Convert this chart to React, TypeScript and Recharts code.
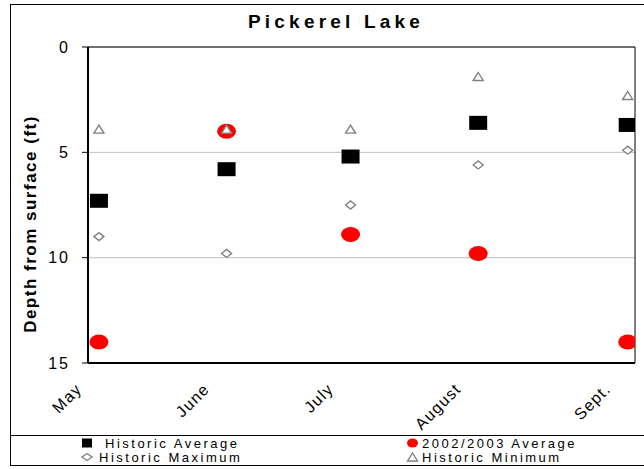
import React from "react";
import { CartesianGrid, ReferenceArea, Scatter, ScatterChart, XAxis, YAxis } from "recharts";

const months = ["May", "June", "July", "August", "Sept."];
// sampling day, counted from 1 May
const sampleDay = [3, 38, 72, 107, 148];
const historicAverage = [7.3, 5.8, 5.2, 3.6, 3.7];
const recentAverage = [14.0, 4.0, 8.9, 9.8, 14.0];
const historicMaximum = [9.0, 9.8, 7.5, 5.6, 4.9];
const historicMinimum = [3.9, 3.9, 3.9, 1.4, 2.3];
const depthTicks = [0, 5, 10, 15];

const FONT = '"Liberation Sans", Arial, sans-serif';

const toPoints = (values: number[]) =>
  values.map((y, i) => ({ x: sampleDay[i], y, month: months[i] }));

function Square({ cx, cy, w = 18, h = 14 }: any) {
  return <rect x={cx - w / 2} y={cy - h / 2} width={w} height={h} fill="#000" />;
}

function RedDot({ cx, cy, w = 19, h = 15 }: any) {
  return <ellipse cx={cx} cy={cy} rx={w / 2} ry={h / 2} fill="#ff0000" />;
}

function Diamond({ cx, cy, w = 10, h = 8 }: any) {
  const d = `M${cx - w / 2},${cy} L${cx},${cy - h / 2} L${cx + w / 2},${cy} L${cx},${cy + h / 2} Z`;
  return <path d={d} fill="#fff" stroke="#808080" strokeWidth={1.4} />;
}

function Triangle({ cx, cy, w = 10, h = 8 }: any) {
  const d = `M${cx - w / 2},${cy + h / 2} L${cx},${cy - h / 2} L${cx + w / 2},${cy + h / 2} Z`;
  return <path d={d} fill="#fff" stroke="#808080" strokeWidth={1.4} />;
}

const legendItems = [
  { name: "Historic Average", Marker: Square, w: 10, h: 9 },
  { name: "2002/2003 Average", Marker: RedDot, w: 11, h: 9 },
  { name: "Historic Maximum", Marker: Diamond, w: 10, h: 7 },
  { name: "Historic Minimum", Marker: Triangle, w: 10, h: 8 },
];

function MonthTick({ x, y, payload }: any) {
  const label = months[sampleDay.indexOf(payload.value)];
  return (
    <g transform={`translate(${x - 16},${y + 27})`}>
      <text
        textAnchor="end"
        transform="rotate(-45)"
        fontSize={16}
        fontFamily={FONT}
        letterSpacing={1.3}
        fill="#000"
      >
        {label}
      </text>
    </g>
  );
}

function DepthLabel({ viewBox }: any) {
  const cx = viewBox.x + 30;
  const cy = viewBox.y + viewBox.height / 2 + 19;
  return (
    <text
      x={cx}
      y={cy}
      transform={`rotate(-90 ${cx} ${cy})`}
      textAnchor="middle"
      dominantBaseline="central"
      fontSize={17}
      fontWeight="bold"
      fontFamily={FONT}
      letterSpacing={1.5}
      fill="#000"
    >
      Depth from surface (ft)
    </text>
  );
}

export default function App() {
  return (
    <div
      style={{
        position: "absolute",
        left: 0,
        top: 0,
        width: 644,
        height: 469,
        overflow: "hidden",
        background: "#fff",
        fontFamily: FONT,
      }}
    >
      <div
        style={{
          position: "absolute",
          left: 10,
          top: 4,
          width: 660,
          height: 462,
          border: "1px solid #000",
          boxSizing: "border-box",
        }}
      />
      <div
        style={{
          position: "absolute",
          left: 248,
          top: 11,
          fontSize: 19,
          fontWeight: "bold",
          letterSpacing: 4.2,
          whiteSpace: "nowrap",
        }}
      >
        Pickerel Lake
      </div>

      <div style={{ position: "absolute", left: 0, top: 0 }}>
        <ScatterChart width={644} height={435} margin={{ top: 47, right: 9, bottom: 12, left: 0 }}>
          <CartesianGrid vertical={false} stroke="#c0c0c0" />
          <ReferenceArea x1={0} x2={150} y1={0} y2={15} fill="none" stroke="#000" />
          <XAxis
            type="number"
            dataKey="x"
            domain={[0, 150]}
            ticks={sampleDay}
            tick={<MonthTick />}
            tickLine={false}
            tickSize={0}
            tickMargin={0}
            height={60}
            allowDataOverflow
            axisLine={{ stroke: "#000", strokeWidth: 2 }}
          />
          <YAxis
            type="number"
            dataKey="y"
            domain={[0, 15]}
            reversed
            ticks={depthTicks}
            width={88}
            tickSize={6}
            tickMargin={12}
            tick={{ fill: "#000", fontSize: 16, fontFamily: FONT, letterSpacing: 2 }}
            tickLine={{ stroke: "#000" }}
            axisLine={{ stroke: "#000", strokeWidth: 2 }}
            label={{ content: DepthLabel }}
          />
          <Scatter name="Historic Average" data={toPoints(historicAverage)} shape={Square} isAnimationActive={false} />
          <Scatter name="2002/2003 Average" data={toPoints(recentAverage)} shape={RedDot} isAnimationActive={false} />
          <Scatter name="Historic Maximum" data={toPoints(historicMaximum)} shape={Diamond} isAnimationActive={false} />
          <Scatter name="Historic Minimum" data={toPoints(historicMinimum)} shape={Triangle} isAnimationActive={false} />
        </ScatterChart>
      </div>

      <div
        style={{
          position: "absolute",
          left: 10,
          top: 435,
          width: 640,
          borderTop: "1px solid #000",
        }}
      />
      <svg width={644} height={34} style={{ position: "absolute", left: 0, top: 435 }}>
        {legendItems.map((item, i) => {
          const col = i % 2;
          const row = Math.floor(i / 2);
          const mx = col === 0 ? 87 : 412.5;
          const baseY = row === 0 ? 13 : 27;
          const tx = col === 0 ? (row === 0 ? 105 : 99) : 422;
          const { Marker } = item;
          return (
            <g key={item.name}>
              <Marker cx={mx} cy={baseY - 5} w={item.w} h={item.h} />
              <text x={tx} y={baseY} fontSize={13} fontFamily={FONT} letterSpacing={2.5} fill="#000">
                {item.name}
              </text>
            </g>
          );
        })}
      </svg>
    </div>
  );
}
